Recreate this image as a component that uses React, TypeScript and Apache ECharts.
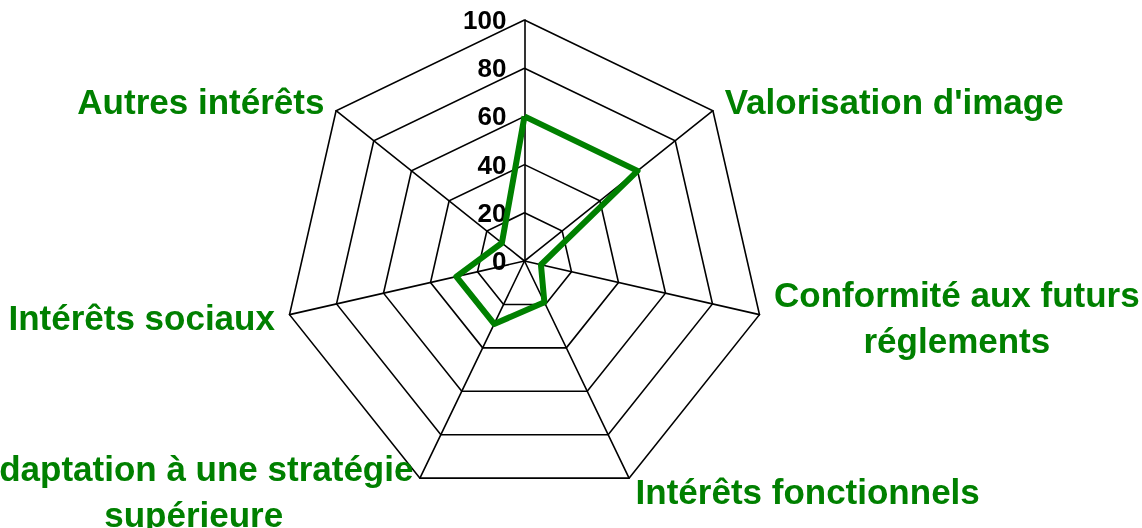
import React, { useEffect, useRef } from 'react';
import * as echarts from 'echarts';

const axisNames = [
  'Intérêts économiques',
  'Autres intérêts',
  'Intérêts sociaux',
  'Adaptation à une stratégie\nsupérieure',
  'Intérêts fonctionnels',
  'Conformité aux futurs\nréglements',
  "Valorisation d'image",
];
const scores = [60, 12, 29, 29, 19, 7, 60];
const tickValues = [0, 20, 40, 60, 80, 100];

const GREEN = '#008000';
const FONT = '"Liberation Sans", Arial, sans-serif';

export default function App() {
  const ref = useRef<HTMLDivElement>(null);
  useEffect(() => {
    const chart = echarts.init(ref.current!, null, { renderer: 'svg' });
    const labelStyle = {
      color: GREEN,
      fontFamily: FONT,
      fontWeight: 'bold',
      fontSize: 35,
      lineHeight: 46,
      align: 'center',
    };
    chart.setOption({
      animation: false,
      radar: {
        center: [524.5, 261],
        radius: 241,
        startAngle: 90,
        shape: 'polygon',
        splitNumber: tickValues.length - 1,
        nameGap: 15,
        indicator: axisNames.map((name, i) => ({
          name,
          min: tickValues[0],
          max: tickValues[tickValues.length - 1],
          ...(i === 0 ? { axisLabel: { show: true } } : {}),
        })),
        axisName: {
          color: GREEN,
          fontFamily: FONT,
          fontWeight: 'bold',
          fontSize: 35,
          lineHeight: 46,
          formatter: (name: string) =>
            name === axisNames[0]
              ? `{t|${name}}`
              : name
                  .split('\n')
                  .map((l) => `{m|${l}}`)
                  .join('\n'),
          rich: {
            m: labelStyle,
            t: { ...labelStyle, padding: [0, 0, 4, 0] },
          },
        },
        axisLine: { lineStyle: { color: '#000', width: 1.6 } },
        splitLine: { lineStyle: { color: '#000', width: 1.6 } },
        splitArea: { show: false },
        axisTick: { show: false },
        axisLabel: {
          show: false,
          color: '#000',
          fontFamily: FONT,
          fontWeight: 'bold',
          fontSize: 26,
          margin: 18,
        },
      },
      series: [
        {
          type: 'radar',
          symbol: 'none',
          lineStyle: { color: GREEN, width: 6 },
          data: [{ value: scores }],
        },
      ],
    });
    return () => chart.dispose();
  }, []);
  return (
    <div
      ref={ref}
      style={{ position: 'fixed', left: 0, top: 0, width: 1142, height: 528 }}
    />
  );
}
